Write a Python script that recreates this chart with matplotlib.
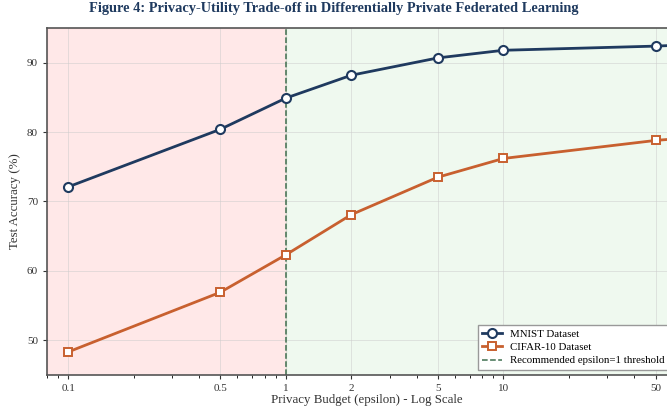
import numpy as np
import matplotlib.pyplot as plt
from matplotlib.ticker import FixedLocator, FixedFormatter

plt.rcParams['font.family'] = ['Liberation Serif', 'DejaVu Serif']

epsilon = [0.1, 0.5, 1, 2, 5, 10, 50, 60]
mnist_acc = [72.1, 80.4, 84.9, 88.2, 90.7, 91.8, 92.4, 92.5]
cifar_acc = [48.3, 56.9, 62.3, 68.1, 73.5, 76.2, 78.8, 79.0]
tick_vals = [0.1, 0.5, 1, 2, 5, 10, 50]
tick_labels = ['0.1', '0.5', '1', '2', '5', '10', '50']

fig = plt.figure(figsize=(6.67, 4.07), dpi=100)
# axes run past the right edge, like the cropped original
ax = fig.add_axes([0.0705, 0.079, 0.96, 0.852])

xmin, xmax = 0.08, 70
ax.axvspan(xmin, 1, color='#ffcccc', alpha=0.45, zorder=0)
ax.axvspan(1, xmax, color='#dcf2dc', alpha=0.45, zorder=0)

ax.plot(epsilon, mnist_acc, color='#1f3a5f', lw=2, marker='o', ms=6.5,
        mfc='white', mec='#1f3a5f', mew=1.5, label='MNIST Dataset', zorder=3)
ax.plot(epsilon, cifar_acc, color='#c8602f', lw=2, marker='s', ms=6,
        mfc='white', mec='#c8602f', mew=1.4, label='CIFAR-10 Dataset', zorder=3)
ax.axvline(1, color='#3f6f4f', ls='--', lw=1.1, label='Recommended epsilon=1 threshold', zorder=2)

ax.set_xscale('log')
ax.set_xlim(xmin, xmax)
ax.set_ylim(45, 95)
ax.xaxis.set_major_locator(FixedLocator(tick_vals))
ax.xaxis.set_major_formatter(FixedFormatter(tick_labels))
ax.set_yticks([50, 60, 70, 80, 90])
ax.tick_params(labelsize=8, colors='#333333', length=3)
ax.grid(True, color='#cccccc', lw=0.6, alpha=0.6)

for s in ax.spines.values():
    s.set_color('#555555')
    s.set_linewidth(1.2)

ax.set_xlabel('Privacy Budget (epsilon) - Log Scale', fontsize=9.3, color='#333333', labelpad=1)
ax.set_ylabel('Test Accuracy (%)', fontsize=9.3, color='#333333')
fig.suptitle('Figure 4: Privacy-Utility Trade-off in Differentially Private Federated Learning',
             x=0.5, y=0.995, fontsize=10.4, fontweight='bold', color='#1f3a5f')

ax.legend(loc='lower left', bbox_to_anchor=(0.673, 0.015), fontsize=7.8, frameon=True,
          edgecolor='#999999', fancybox=False, framealpha=1, borderaxespad=0,
          handlelength=1.8, labelspacing=0.35)

fig.savefig('out.png', dpi=100)
